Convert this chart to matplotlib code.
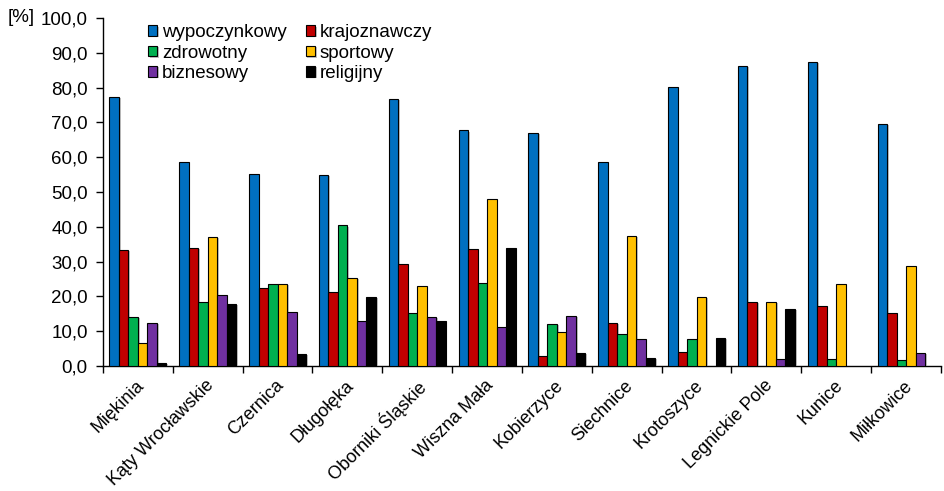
import numpy as np
import matplotlib
matplotlib.use('Agg')
import matplotlib.pyplot as plt
import matplotlib.patheffects as pe
from matplotlib.transforms import ScaledTranslation

plt.rcParams['font.family'] = ['Liberation Sans', 'DejaVu Sans']

gminy = ['Miękinia', 'Kąty Wrocławskie', 'Czernica', 'Długołęka', 'Oborniki Śląskie',
         'Wiszna Mała', 'Kobierzyce', 'Siechnice', 'Krotoszyce', 'Legnickie Pole',
         'Kunice', 'Miłkowice']

wypoczynkowy = [77.3, 58.5, 55.3, 55.0, 76.7, 67.7, 67.1, 58.7, 80.2, 86.3, 87.3, 69.5]
krajoznawczy = [33.3, 33.8, 22.5, 21.4, 29.2, 33.7, 3.0, 12.4, 4.0, 18.5, 17.3, 15.3]
zdrowotny = [14.2, 18.5, 23.5, 40.4, 15.2, 23.8, 12.2, 9.2, 7.9, 0.0, 2.0, 1.7]
sportowy = [6.5, 37.0, 23.5, 25.2, 22.9, 47.9, 9.8, 37.5, 19.9, 18.5, 23.7, 28.8]
biznesowy = [12.3, 20.5, 15.6, 12.8, 14.0, 11.2, 14.5, 7.8, 0.0, 2.1, 0.0, 3.7]
religijny = [1.0, 17.9, 3.4, 19.9, 12.8, 33.8, 3.8, 2.4, 8.0, 16.3, 0.0, 0.0]

series = [
    ('wypoczynkowy', wypoczynkowy, '#0070C0'),
    ('krajoznawczy', krajoznawczy, '#C00000'),
    ('zdrowotny', zdrowotny, '#00B050'),
    ('sportowy', sportowy, '#FFC000'),
    ('biznesowy', biznesowy, '#7030A0'),
    ('religijny', religijny, '#000000'),
]

FS = 13.5

fig = plt.figure(figsize=(9.44, 4.91), dpi=100)
ax = fig.add_axes([0.1091, 0.2546, 0.8877, 0.7087])

x = np.arange(len(gminy))
w = 0.136
shadow = [pe.SimplePatchShadow(offset=(1.2, -0.8), shadow_rgbFace='#999999', alpha=0.6), pe.Normal()]
handles = []
for i, (name, vals, col) in enumerate(series):
    vals = np.array(vals)
    pos = x + (i - 2.5) * w
    mask = vals > 0
    bars = ax.bar(pos[mask], vals[mask], width=w, color=col, edgecolor='black',
                  linewidth=0.8, label=name, zorder=3)
    for b in bars:
        b.set_path_effects(shadow)
    handles.append(bars)

ax.set_xlim(-0.5, len(gminy) - 0.5)
ax.set_ylim(0, 100)
ax.set_yticks(np.arange(0, 101, 10))
ax.set_yticklabels([f'{v:.1f}'.replace('.', ',') for v in np.arange(0, 101, 10)], fontsize=FS)
ax.tick_params(axis='y', direction='out', length=5, width=1, pad=6, colors='black')

ax.set_xticks(np.arange(-0.5, len(gminy), 1.0))
ax.set_xticklabels([])
ax.tick_params(axis='x', which='major', direction='out', length=5, width=1)
ax.set_xticks(x, minor=True)
ax.set_xticklabels(gminy, minor=True, rotation=45, ha='right', va='top',
                   rotation_mode='anchor', fontsize=13)
ax.tick_params(axis='x', which='minor', length=0, pad=8)
offset = ScaledTranslation(-2 / 100, 0, fig.dpi_scale_trans)
for lbl in ax.get_xticklabels(minor=True):
    lbl.set_transform(lbl.get_transform() + offset)

for s in ['top', 'right']:
    ax.spines[s].set_visible(False)
ax.spines['left'].set_linewidth(1)
ax.spines['bottom'].set_linewidth(1)

fig.text(8 / 944, 1 - 18 / 491, '[%]', ha='left', va='center', fontsize=FS)

# legend filled row by row: reorder for matplotlib's column-first layout
order = [0, 2, 4, 1, 3, 5]
leg = fig.legend(handles=[handles[k] for k in order], loc='upper left',
                 bbox_to_anchor=(0.143, 0.977), ncols=2,
                 frameon=False, fontsize=FS, handlelength=0.5, handleheight=0.5,
                 handletextpad=0.25, columnspacing=1.0, labelspacing=0.18, borderpad=0.2)

fig.savefig('out.png', dpi=100)
